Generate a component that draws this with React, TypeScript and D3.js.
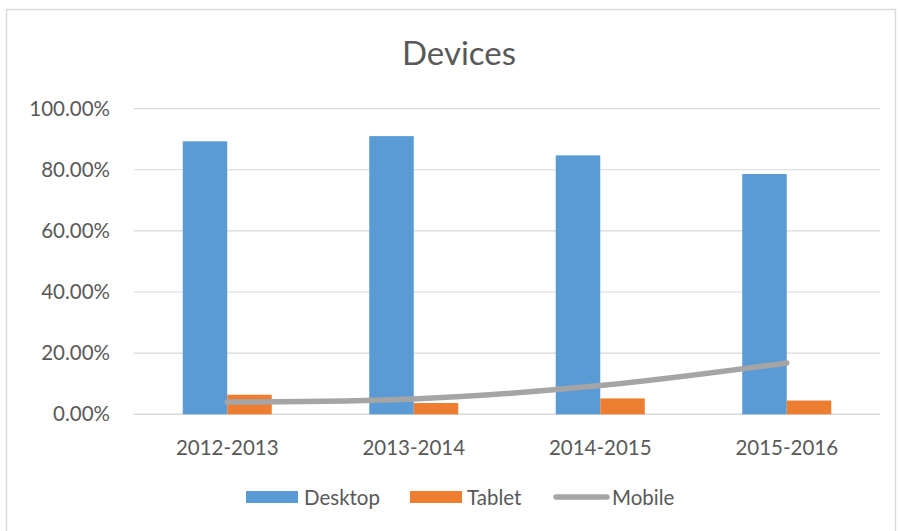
import React from "react";
import * as d3 from "d3";

const categories = ["2012-2013", "2013-2014", "2014-2015", "2015-2016"];
const desktop = [0.893, 0.91, 0.847, 0.786];
const tablet = [0.064, 0.037, 0.052, 0.045];
const mobile = [0.04, 0.05, 0.094, 0.168];
const yTicks = [0, 0.2, 0.4, 0.6, 0.8, 1.0];
const seriesNames = ["Desktop", "Tablet", "Mobile"];
const colors = ["#5b9bd5", "#ed7d31", "#a5a5a5"];

const W = 898;
const H = 531;
const FONT = "Lato, 'Open Sans', sans-serif";

export default function App() {
  const left = 134;
  const right = 880;
  const top = 108.6;
  const bottom = 414.3;

  const x = d3.scaleBand<string>().domain(categories).range([left, right]).paddingInner(0).paddingOuter(0);
  const y = d3.scaleLinear().domain([0, 1]).range([bottom, top]);
  const band = x.bandwidth();
  const barW = band / (2 + 2.19);
  const fmt = d3.format(".2%");

  const line = d3
    .line<number>()
    .x((_, i) => (x(categories[i]) as number) + band / 2)
    .y((d) => y(d))
    .curve(d3.curveCatmullRom.alpha(0.5));

  return (
    <svg width={W} height={H} style={{ position: "absolute", left: 0, top: 0 }} fontFamily={FONT}>
      <rect x={0} y={0} width={W} height={H} fill="#ffffff" />
      <rect x={6.5} y={9.5} width={889} height={530} fill="#ffffff" stroke="#d9d9d9" strokeWidth={1.5} />
      <text x={459} y={65} textAnchor="middle" fontSize={33} fill="#595959">
        Devices
      </text>
      {yTicks.map((t) => (
        <g key={t}>
          <line x1={left} x2={right} y1={y(t)} y2={y(t)} stroke="#d9d9d9" strokeWidth={t === 0 ? 1.6 : 1.2} />
          <text x={110} y={y(t) + 7} textAnchor="end" fontSize={20.5} fill="#595959">
            {fmt(t)}
          </text>
        </g>
      ))}
      {categories.map((c, i) => {
        const cx = (x(c) as number) + band / 2;
        return (
          <g key={c}>
            <rect x={cx - barW} y={y(desktop[i])} width={barW} height={bottom - y(desktop[i])} fill={colors[0]} />
            <rect x={cx} y={y(tablet[i])} width={barW} height={bottom - y(tablet[i])} fill={colors[1]} />
            <text x={cx} y={455} textAnchor="middle" fontSize={20.5} fill="#595959">
              {c}
            </text>
          </g>
        );
      })}
      <path d={line(mobile) || ""} fill="none" stroke={colors[2]} strokeWidth={5.5} strokeLinecap="round" />
      <g>
        <rect x={246} y={491} width={52} height={12} fill={colors[0]} />
        <text x={304} y={504.5} fontSize={20.5} fill="#595959">
          {seriesNames[0]}
        </text>
        <rect x={410} y={491} width={52} height={12} fill={colors[1]} />
        <text x={467} y={504.5} fontSize={20.5} fill="#595959">
          {seriesNames[1]}
        </text>
        <line x1={556} x2={607} y1={497} y2={497} stroke={colors[2]} strokeWidth={5.5} strokeLinecap="round" />
        <text x={612} y={504.5} fontSize={20.5} fill="#595959">
          {seriesNames[2]}
        </text>
      </g>
    </svg>
  );
}
